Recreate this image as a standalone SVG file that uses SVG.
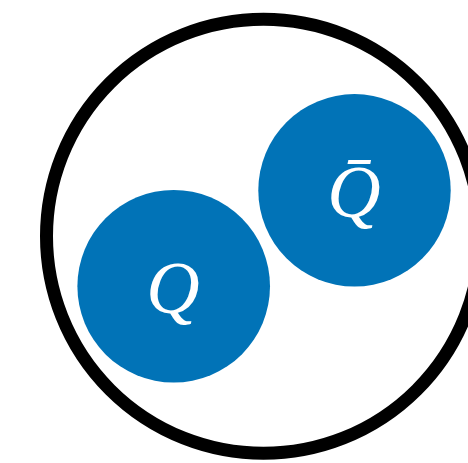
<svg xmlns="http://www.w3.org/2000/svg" width="468" height="463" viewBox="0 0 468 463">
<style>
.ball{fill:#0173B7;}
.lbl{fill:#fff;font-family:"Liberation Serif","DejaVu Serif",serif;font-style:italic;font-size:74px;text-anchor:middle;}
</style>
<rect width="468" height="463" fill="#fff"/>
<g id="hadron"><circle cx="263.5" cy="236.3" r="217" fill="none" stroke="#000" stroke-width="13"/></g>
<g id="quark"><circle class="ball" cx="173.7" cy="286.3" r="96.3"/><text class="lbl" x="173" y="313">Q</text></g>
<g id="antiquark"><circle class="ball" cx="354.5" cy="190.3" r="96.2"/><text class="lbl" x="354" y="217">Q̄</text></g>
<g id="connectors"/>
</svg>
